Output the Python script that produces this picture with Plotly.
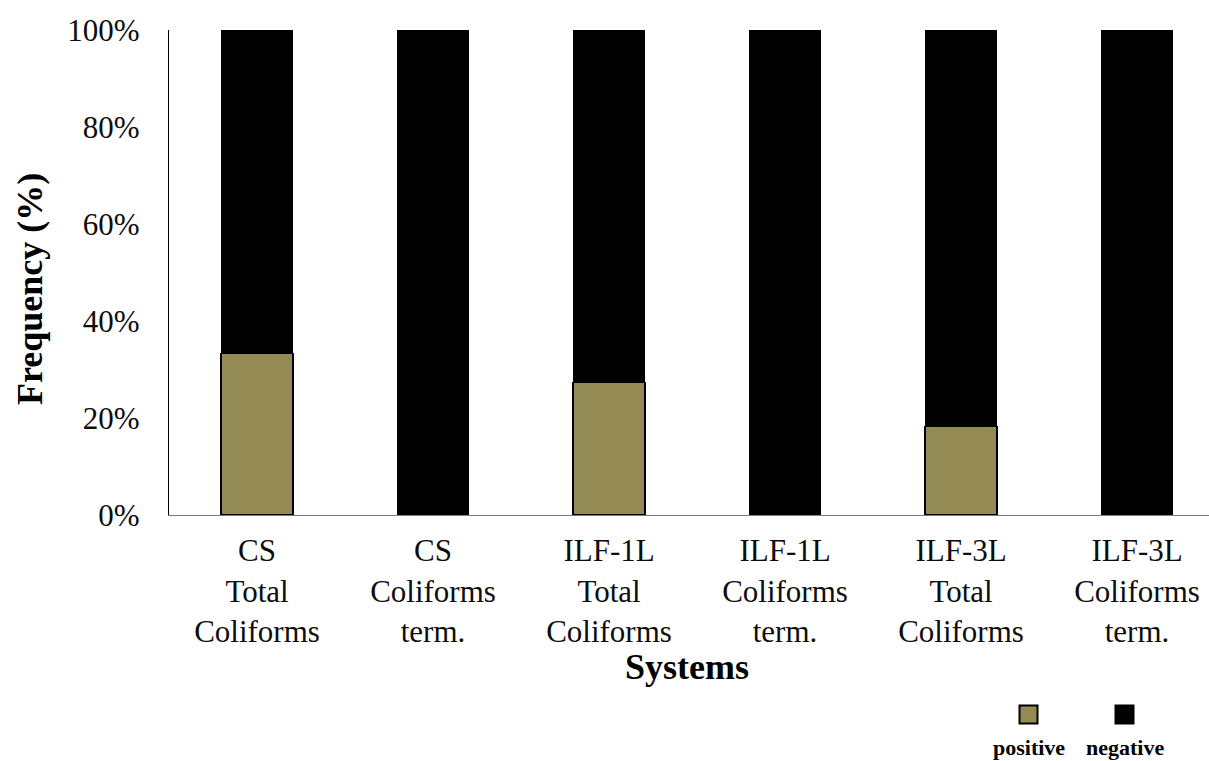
import plotly.graph_objects as go

# Sampling systems and indicator groups
categories = [
    "CS<br>Total<br>Coliforms",
    "CS<br>Coliforms<br>term.",
    "ILF-1L<br>Total<br>Coliforms",
    "ILF-1L<br>Coliforms<br>term.",
    "ILF-3L<br>Total<br>Coliforms",
    "ILF-3L<br>Coliforms<br>term.",
]
# Share of samples (%) by result
positive = [33.3, 0.0, 27.3, 0.0, 18.2, 0.0]
negative = [66.7, 100.0, 72.7, 100.0, 81.8, 100.0]
y_ticks = [0, 20, 40, 60, 80, 100]

POS_COLOR = "#948A54"
NEG_COLOR = "#000000"
TEXT_COLOR = "#0d0d0d"
FONT = "Liberation Serif"

x_idx = list(range(len(categories)))

fig = go.Figure()
fig.add_trace(go.Bar(
    x=x_idx, y=positive, name="positive",
    marker=dict(color=POS_COLOR, line=dict(color="#000000", width=1.5)),
))
fig.add_trace(go.Bar(
    x=x_idx, y=negative, name="negative",
    marker=dict(color=NEG_COLOR, line=dict(color="#000000", width=0)),
))

W, H = 1209, 761
L, T, B = 169, 30, 246
plot_w = W - L
plot_h = H - T - B
cat_px = 176.0
x_max = -0.5 + plot_w / cat_px

fig.update_layout(
    width=W, height=H,
    margin=dict(l=L, r=0, t=T, b=B, pad=0),
    barmode="stack",
    bargap=0.59,
    plot_bgcolor="white",
    paper_bgcolor="white",
    showlegend=False,
    font=dict(family=FONT, size=31),
    xaxis=dict(
        range=[-0.5, x_max],
        tickmode="array", tickvals=x_idx, ticktext=categories,
        showline=True, linecolor="#7a7a7a", linewidth=1.2,
        ticks="outside", ticklen=8, tickcolor="rgba(0,0,0,0)",
        showgrid=False, zeroline=False,
        tickfont=dict(family=FONT, size=31, color=TEXT_COLOR),
    ),
    yaxis=dict(
        range=[0, 100],
        tickmode="array", tickvals=y_ticks,
        ticktext=[f"{v}%" for v in y_ticks],
        showline=True, linecolor="#000000", linewidth=1.2,
        ticks="outside", ticklen=22, tickcolor="rgba(0,0,0,0)",
        showgrid=False, zeroline=False,
        tickfont=dict(family=FONT, size=31, color=TEXT_COLOR),
    ),
)

def px_x(px):
    return (px - L) / plot_w

def px_y(py):
    return (H - B - py) / plot_h

# Axis titles
fig.add_annotation(
    text="<b>Frequency (%)</b>", xref="paper", yref="paper",
    x=px_x(30), y=px_y(289), textangle=-90, showarrow=False,
    font=dict(family=FONT, size=36, color="#000000"),
    xanchor="center", yanchor="middle",
)
fig.add_annotation(
    text="<b>Systems</b>", xref="paper", yref="paper",
    x=px_x(687), y=px_y(667), showarrow=False,
    font=dict(family=FONT, size=36, color="#000000"),
    xanchor="center", yanchor="middle",
)

# Legend: swatch above each label
legend_items = [("positive", POS_COLOR, 1028.5), ("negative", NEG_COLOR, 1124.5)]
for label, color, cx in legend_items:
    fig.add_shape(
        type="rect", xref="paper", yref="paper",
        xsizemode="pixel", ysizemode="pixel",
        xanchor=px_x(cx), yanchor=px_y(714.5),
        x0=-9, x1=9, y0=-9, y1=9,
        fillcolor=color, line=dict(color="#000000", width=2),
    )
    fig.add_annotation(
        text=f"<b>{label}</b>", xref="paper", yref="paper",
        x=px_x(cx), y=px_y(747), showarrow=False,
        font=dict(family=FONT, size=22, color="#000000"),
        xanchor="center", yanchor="middle",
    )

fig.write_html("out.html", config={"displayModeBar": False})
